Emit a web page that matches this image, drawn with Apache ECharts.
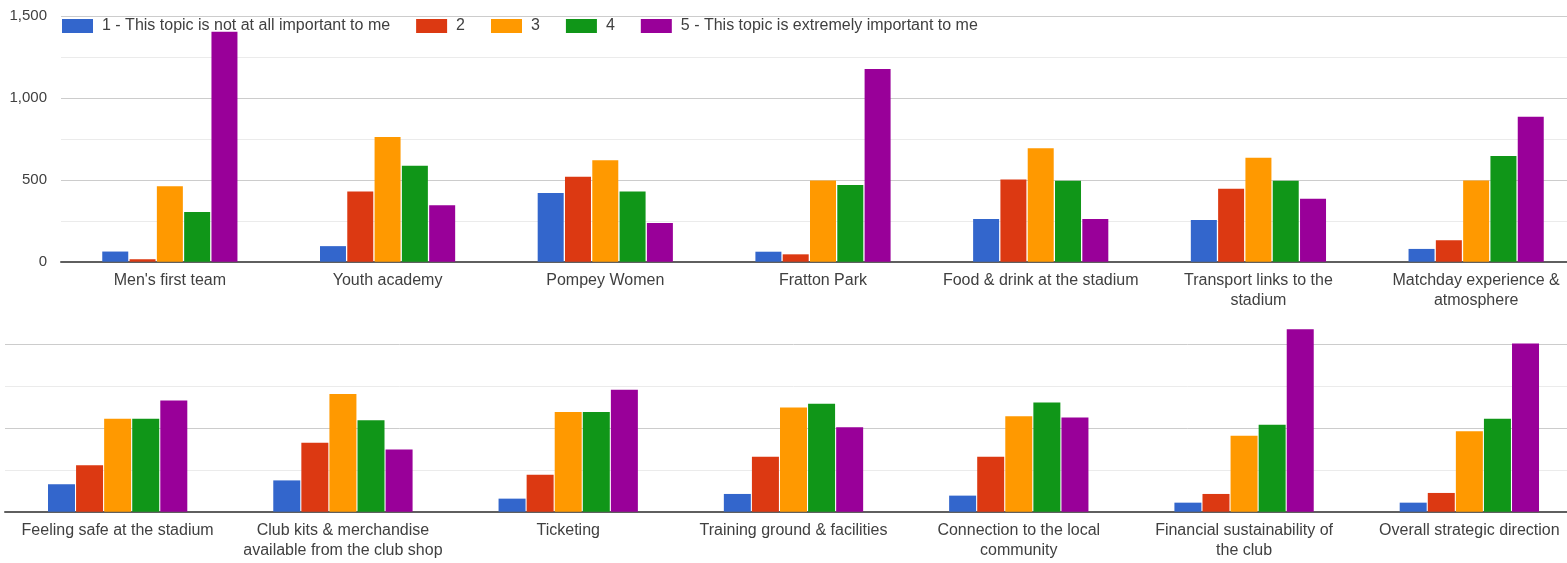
<!DOCTYPE html>
<html>
<head>
<meta charset="utf-8">
<script src="https://cdn.jsdelivr.net/npm/echarts@6/dist/echarts.min.js"></script>
<style>
  html, body { margin: 0; padding: 0; background: #ffffff; overflow: hidden; }
  /* the chart area runs slightly past the right edge of the page */
  #chart { width: 1600px; height: 563px; }
</style>
</head>
<body>
<div id="chart"></div>
<script>
// Survey: how important each topic is to respondents (count of answers per rating)
const ratingNames = [
  '1 - This topic is not at all important to me',
  '2',
  '3',
  '4',
  '5 - This topic is extremely important to me'
];
const ratingColors = ['#3366cc', '#dc3912', '#ff9900', '#109618', '#990099'];

// First row of topics
const topicsRow1 = [
  "Men's first team",
  'Youth academy',
  'Pompey Women',
  'Fratton Park',
  'Food & drink at the stadium',
  'Transport links to the\nstadium',
  'Matchday experience &\natmosphere'
];
const row1Rating1 = [62, 95, 420, 61, 260, 254, 78];
const row1Rating2 = [15, 428, 519, 45, 502, 445, 131];
const row1Rating3 = [461, 762, 619, 496, 693, 635, 496];
const row1Rating4 = [303, 586, 428, 469, 494, 494, 646];
const row1Rating5 = [1404, 344, 236, 1177, 260, 385, 885];

// Second row of topics
const topicsRow2 = [
  'Feeling safe at the stadium',
  'Club kits & merchandise\navailable from the club shop',
  'Ticketing',
  'Training ground & facilities',
  'Connection to the local\ncommunity',
  'Financial sustainability of\nthe club',
  'Overall strategic direction'
];
const row2Rating1 = [164, 187, 78, 106, 96, 54, 54];
const row2Rating2 = [277, 412, 221, 329, 329, 106, 112];
const row2Rating3 = [555, 703, 596, 622, 570, 454, 481];
const row2Rating4 = [555, 546, 596, 645, 653, 520, 555];
const row2Rating5 = [664, 371, 729, 504, 562, 1090, 1005];

const yTicksRow1 = { min: 0, max: 1500, interval: 500 };
const yTicksRow2 = { min: 0, max: 1000, interval: 500 };

const row1 = [row1Rating1, row1Rating2, row1Rating3, row1Rating4, row1Rating5];
const row2 = [row2Rating1, row2Rating2, row2Rating3, row2Rating4, row2Rating5];

const FONT = '"Liberation Sans", Arial, sans-serif';
const TEXT = '#404040';

function valueAxis(gridIndex, ticks, showLabels) {
  return {
    type: 'value',
    gridIndex,
    min: ticks.min,
    max: ticks.max,
    interval: ticks.interval,
    axisLine: { show: false },
    axisTick: { show: false },
    axisLabel: {
      show: showLabels,
      margin: 14,
      color: TEXT,
      fontFamily: FONT,
      fontSize: 15,
      formatter: v => v.toLocaleString('en-US')
    },
    splitLine: { show: true, lineStyle: { color: '#cccccc', width: 1 } },
    minorTick: { show: false, splitNumber: 2 },
    minorSplitLine: { show: true, lineStyle: { color: '#ebebeb', width: 1 } }
  };
}

function categoryAxis(gridIndex, cats) {
  return {
    type: 'category',
    gridIndex,
    data: cats,
    axisTick: { show: false },
    axisLine: { show: true, lineStyle: { color: '#5f5f5f', width: 2 } },
    axisLabel: {
      interval: 0,
      margin: 9,
      color: TEXT,
      fontFamily: FONT,
      fontSize: 16,
      lineHeight: 20
    }
  };
}

const series = [];
row1.forEach((vals, i) => {
  series.push({
    name: ratingNames[i],
    type: 'bar',
    xAxisIndex: 0,
    yAxisIndex: 0,
    data: vals,
    barWidth: 26,
    barGap: '5%',
    itemStyle: { color: ratingColors[i] },
    emphasis: { disabled: true }
  });
});
row2.forEach((vals, i) => {
  series.push({
    name: ratingNames[i],
    type: 'bar',
    xAxisIndex: 1,
    yAxisIndex: 1,
    data: vals,
    barWidth: 27,
    barGap: '4%',
    clip: false,
    itemStyle: { color: ratingColors[i] },
    emphasis: { disabled: true }
  });
});

const chart = echarts.init(document.getElementById('chart'), null, { renderer: 'canvas' });
chart.setOption({
  backgroundColor: '#ffffff',
  animation: false,
  color: ratingColors,
  legend: {
    data: ratingNames,
    left: 62,
    top: 18,
    padding: 0,
    icon: 'rect',
    itemWidth: 31,
    itemHeight: 14,
    itemGap: 26,
    selectedMode: false,
    textStyle: {
      color: TEXT,
      fontFamily: FONT,
      fontSize: 16,
      lineHeight: 16,
      padding: [0, 0, 0, 4]
    }
  },
  grid: [
    { left: 61, top: 16, width: 1524, height: 245.7, containLabel: false },
    { left: 5, top: 344.3, width: 1577, height: 167.4, containLabel: false }
  ],
  xAxis: [categoryAxis(0, topicsRow1), categoryAxis(1, topicsRow2)],
  yAxis: [valueAxis(0, yTicksRow1, true), valueAxis(1, yTicksRow2, false)],
  series
});
</script>
</body>
</html>
